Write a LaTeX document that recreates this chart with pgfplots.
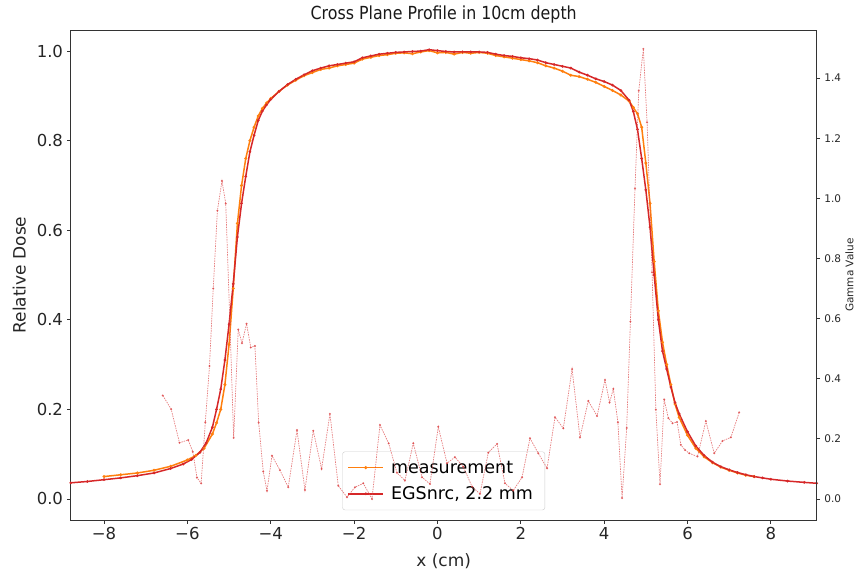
\documentclass[border=0pt]{standalone}
\usepackage{pgfplots}
\pgfplotsset{compat=1.18}
\usepackage{fontspec}
\setmainfont{DejaVu Sans}
\newfontfamily\titlefont{DejaVu Sans}[FakeStretch=0.88]
\definecolor{mplorange}{HTML}{FF7F0E}
\definecolor{mplred}{HTML}{D62728}
\definecolor{spine}{HTML}{333333}
\begin{document}
\begin{tikzpicture}
\path[use as bounding box] (-70.7pt,-56pt) rectangle (786.3pt,520pt);
\begin{axis}[
  at={(0pt,0pt)}, anchor=south west,
  scale only axis, width=746pt, height=490pt,
  xmin=-8.8, xmax=9.1, ymin=-0.047, ymax=1.047,
  axis line style={spine, line width=0.8pt},
  tick style={spine, line width=0.8pt},
  tick align=outside, major tick length=3.5pt,
  xtick pos=left, ytick pos=left,
  xtick={-8,-6,-4,-2,0,2,4,6,8},
  xticklabels={−8,−6,−4,−2,0,2,4,6,8},
  ytick={0,0.2,0.4,0.6,0.8,1.0},
  yticklabels={0.0,0.2,0.4,0.6,0.8,1.0},
  ticklabel style={font=\fontsize{16.5}{19}\selectfont, text=black!85},
  xticklabel style={inner sep=1pt, yshift=-3pt},
  yticklabel style={inner sep=1pt, xshift=-3pt},
  xlabel={x (cm)}, ylabel={Relative Dose},
  label style={font=\fontsize{17}{20}\selectfont, text=black!85},
  xlabel style={at={(axis description cs:0.5,-0.084)}, anchor=center},
  ylabel style={at={(axis description cs:-0.069,0.5)}, anchor=center},
  title={\fontsize{18}{21}\titlefont Cross Plane Profile in 10cm depth},
  title style={text=black!90, at={(axis description cs:0.5,1)}, anchor=south, yshift=-3pt},
  legend style={at={(axis description cs:0.5,0.02)}, anchor=south, draw=black!20, rounded corners=2.5pt, fill=white, fill opacity=0.8, text opacity=1, font=\fontsize{17.5}{21}\selectfont, inner xsep=5pt, inner ysep=7pt, row sep=8pt, nodes={inner xsep=7pt}},
  legend cell align=left,
  legend image code/.code={\draw[mark repeat=2, mark phase=2, #1] plot coordinates {(0pt,0pt) (17.5pt,0pt) (35pt,0pt)};},
]
\addplot[mplorange, line width=1.5pt, mark=*, mark size=0.6pt] coordinates {
(-8.0,0.050) (-7.6,0.054) (-7.2,0.058) (-6.8,0.064) (-6.4,0.073) (-6.0,0.087)
(-5.8,0.097) (-5.6,0.113) (-5.4,0.145) (-5.3,0.170) (-5.2,0.200) (-5.1,0.255)
(-5.0,0.345) (-4.9,0.470) (-4.8,0.615) (-4.7,0.700) (-4.6,0.760) (-4.5,0.800)
(-4.4,0.830) (-4.3,0.855) (-4.2,0.872) (-4.1,0.884) (-4.0,0.894) (-3.8,0.910)
(-3.6,0.924) (-3.4,0.935) (-3.2,0.945) (-3.0,0.952) (-2.8,0.959) (-2.6,0.962)
(-2.4,0.967) (-2.2,0.970) (-2.0,0.973) (-1.8,0.982) (-1.6,0.986) (-1.4,0.990)
(-1.2,0.992) (-1.0,0.995) (-0.8,0.996) (-0.6,0.994) (-0.4,0.998) (-0.2,1.001)
(0.0,0.996) (0.2,0.997) (0.4,0.993) (0.6,0.997) (0.8,0.995) (1.0,0.997)
(1.2,0.995) (1.4,0.990) (1.6,0.987) (1.8,0.984) (2.0,0.981) (2.2,0.978)
(2.4,0.974) (2.6,0.967) (2.8,0.962) (3.0,0.955) (3.2,0.946) (3.4,0.943)
(3.6,0.937) (3.8,0.930) (4.0,0.921) (4.2,0.912) (4.4,0.902) (4.6,0.888)
(4.7,0.874) (4.8,0.860) (4.9,0.830) (5.0,0.750) (5.1,0.660) (5.2,0.530)
(5.3,0.420) (5.4,0.350) (5.5,0.300) (5.6,0.255) (5.7,0.212) (5.8,0.182)
(6.0,0.142) (6.2,0.113) (6.4,0.094) (6.6,0.081) (6.8,0.071) (7.0,0.064)
(7.2,0.058) (7.4,0.053) (7.6,0.050)
};
\addlegendentry{measurement}
\addplot[mplred, line width=1.5pt, mark=*, mark size=0.45pt] coordinates {
(-8.8,0.036) (-8.4,0.039) (-8.0,0.043) (-7.6,0.047) (-7.2,0.052) (-6.8,0.058)
(-6.4,0.068) (-6.1,0.078) (-5.9,0.088) (-5.7,0.104) (-5.55,0.125) (-5.4,0.160)
(-5.3,0.200) (-5.2,0.245) (-5.1,0.310) (-5.0,0.390) (-4.9,0.480) (-4.8,0.585)
(-4.7,0.660) (-4.6,0.720) (-4.5,0.775) (-4.4,0.812) (-4.3,0.845) (-4.2,0.866)
(-4.1,0.880) (-4.0,0.892) (-3.8,0.910) (-3.6,0.925) (-3.4,0.937) (-3.2,0.947)
(-3.0,0.956) (-2.8,0.962) (-2.6,0.967) (-2.4,0.970) (-2.2,0.973) (-2.0,0.976)
(-1.8,0.985) (-1.6,0.989) (-1.4,0.993) (-1.2,0.995) (-1.0,0.997) (-0.8,0.998)
(-0.6,0.999) (-0.4,1.000) (-0.2,1.003) (0.0,1.001) (0.2,0.999) (0.4,0.998)
(0.6,0.998) (0.8,0.998) (1.0,0.998) (1.2,0.997) (1.4,0.993) (1.6,0.990)
(1.8,0.988) (2.0,0.985) (2.2,0.983) (2.4,0.980) (2.6,0.974) (2.8,0.970)
(3.0,0.966) (3.2,0.962) (3.4,0.953) (3.6,0.946) (3.8,0.938) (4.0,0.932)
(4.2,0.924) (4.4,0.912) (4.6,0.890) (4.7,0.865) (4.8,0.825) (4.9,0.760)
(5.0,0.690) (5.1,0.607) (5.2,0.500) (5.3,0.400) (5.4,0.330) (5.5,0.290)
(5.6,0.250) (5.7,0.215) (5.8,0.190) (6.0,0.150) (6.2,0.118) (6.4,0.097)
(6.6,0.082) (6.8,0.072) (7.0,0.065) (7.2,0.059) (7.4,0.054) (7.6,0.050)
(7.8,0.047) (8.0,0.044) (8.4,0.040) (8.8,0.037) (9.1,0.035)
};
\addlegendentry{EGSnrc, 2.2 mm}
\end{axis}
\begin{axis}[
  at={(0pt,0pt)}, anchor=south west,
  scale only axis, width=746pt, height=490pt,
  xmin=-8.8, xmax=9.1, ymin=-0.070, ymax=1.560,
  hide x axis,
  axis y line*=right,
  axis line style={spine, line width=0.8pt, -},
  tick style={spine, line width=0.8pt},
  tick align=outside, major tick length=3.5pt,
  ytick={0,0.2,0.4,0.6,0.8,1.0,1.2,1.4},
  yticklabels={0.0,0.2,0.4,0.6,0.8,1.0,1.2,1.4},
  yticklabel style={font=\fontsize{10.5}{12}\selectfont, text=black!85, inner sep=1pt, xshift=3pt},
  ylabel={Gamma Value},
  ylabel style={font=\fontsize{10.5}{12}\selectfont, text=black!85, at={(axis description cs:1.044,0.5)}, anchor=center, rotate=0},
]
\addplot[mplred!85!white, opacity=0.7, line width=0.7pt, dash pattern=on 1.5pt off 1pt, mark=*, mark size=0.65pt, mark options={solid}] coordinates {
(-6.59,0.344) (-6.39,0.299) (-6.19,0.187) (-5.98,0.196) (-5.87,0.157) (-5.77,0.071)
(-5.67,0.052) (-5.57,0.255) (-5.47,0.442) (-5.38,0.700) (-5.28,0.959) (-5.17,1.058)
(-5.08,0.983) (-4.98,0.588) (-4.89,0.203) (-4.78,0.564) (-4.69,0.518) (-4.58,0.583)
(-4.48,0.504) (-4.38,0.509) (-4.29,0.254) (-4.18,0.091) (-4.09,0.027) (-3.97,0.144)
(-3.78,0.096) (-3.58,0.039) (-3.37,0.229) (-3.18,0.030) (-2.98,0.227) (-2.78,0.100)
(-2.58,0.283) (-2.38,0.044) (-2.17,0.006) (-1.98,0.039) (-1.78,0.052) (-1.57,0.000)
(-1.38,0.246) (-1.17,0.185) (-0.97,0.087) (-0.78,0.061) (-0.58,0.185) (-0.37,0.072)
(-0.18,0.050) (0.02,0.240) (0.23,0.119) (0.42,0.139) (0.62,0.107) (0.83,0.041)
(1.02,0.017) (1.22,0.154) (1.43,0.183) (1.62,0.052) (1.82,0.028) (2.03,0.072)
(2.22,0.202) (2.42,0.152) (2.63,0.102) (2.82,0.272) (3.02,0.235) (3.23,0.432)
(3.42,0.205) (3.62,0.326) (3.83,0.276) (4.02,0.396) (4.13,0.321) (4.22,0.366)
(4.33,0.255) (4.43,0.003) (4.54,0.236) (4.63,0.590) (4.74,1.033) (4.83,1.358)
(4.94,1.497) (5.03,1.253) (5.15,0.754) (5.24,0.297) (5.34,0.049) (5.44,0.331)
(5.54,0.269) (5.64,0.252) (5.75,0.256) (5.84,0.180) (5.94,0.163) (6.04,0.152)
(6.24,0.141) (6.44,0.259) (6.64,0.152) (6.84,0.193) (7.04,0.205) (7.24,0.288)
};
\end{axis}
\end{tikzpicture}
\end{document}
